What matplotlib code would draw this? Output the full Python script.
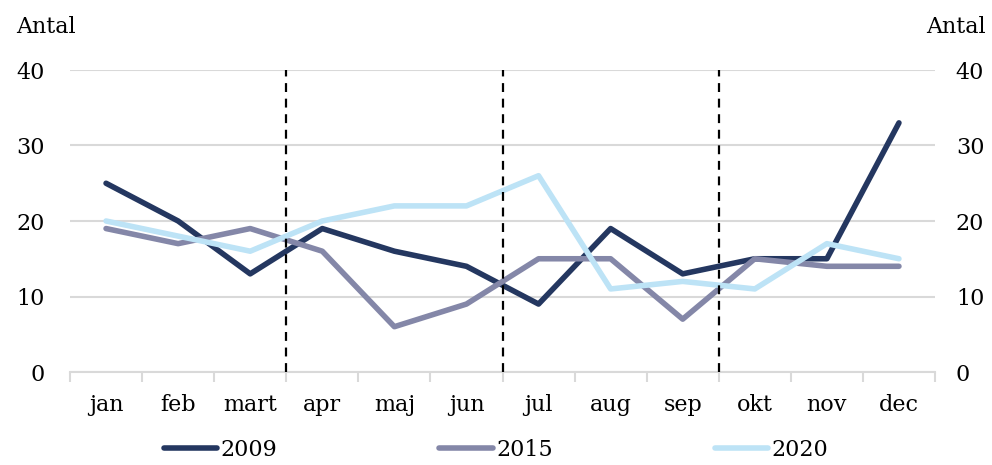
import matplotlib.pyplot as plt

months = ['jan', 'feb', 'mart', 'apr', 'maj', 'jun',
          'jul', 'aug', 'sep', 'okt', 'nov', 'dec']
v2009 = [25, 20, 13, 19, 16, 14, 9, 19, 13, 15, 15, 33]
v2015 = [19, 17, 19, 16, 6, 9, 15, 15, 7, 15, 14, 14]
v2020 = [20, 18, 16, 20, 22, 22, 26, 11, 12, 11, 17, 15]
quarter_breaks = [2.5, 5.5, 8.5]

plt.rcParams['font.family'] = ['DejaVu Serif']
fs = 16

fig = plt.figure(figsize=(9.92, 4.65), dpi=100)
ax = fig.add_axes([70 / 992, 1 - 372 / 465, 865 / 992, 302 / 465])

x = list(range(len(months)))
ax.plot(x, v2009, color='#243760', lw=4, solid_capstyle='round', label='2009', zorder=3)
ax.plot(x, v2015, color='#8487a8', lw=4, solid_capstyle='round', label='2015', zorder=3)
ax.plot(x, v2020, color='#bde3f6', lw=4, solid_capstyle='round', label='2020', zorder=3)

for b in quarter_breaks:
    ax.axvline(b, color='black', lw=1.6, ls=(0, (4, 3)), zorder=4)

ax.set_xlim(-0.5, 11.5)
ax.set_ylim(0, 40)
ax.set_yticks([0, 10, 20, 30, 40])
ax.grid(axis='y', color='#d9d9d9', lw=1.5, zorder=1)
ax.set_axisbelow(True)

for s in ['top', 'right', 'left']:
    ax.spines[s].set_visible(False)
ax.spines['bottom'].set_color('#d9d9d9')
ax.spines['bottom'].set_linewidth(1.5)

ax.set_xticks(x)
ax.set_xticklabels(months, fontsize=fs)
ax.set_xticks([i - 0.5 for i in range(13)], minor=True)
ax.tick_params(axis='x', which='major', length=0, pad=16)
ax.tick_params(axis='x', which='minor', length=7, width=1.5, color='#d9d9d9')
ax.tick_params(axis='y', length=0, labelsize=fs, pad=18)

ax2 = ax.twinx()
ax2.set_ylim(0, 40)
ax2.set_yticks([0, 10, 20, 30, 40])
for s in ['top', 'right', 'left', 'bottom']:
    ax2.spines[s].set_visible(False)
ax2.tick_params(axis='y', length=0, labelsize=fs, pad=15)

fig.text(16 / 992, 1 - 27 / 465, 'Antal', fontsize=fs, ha='left', va='center')
fig.text(986 / 992, 1 - 27 / 465, 'Antal', fontsize=fs, ha='right', va='center')

fig.legend(loc='center', bbox_to_anchor=(0.5, 1 - 450 / 465), ncol=3,
           frameon=False, fontsize=fs, handlelength=2.4, handletextpad=0.15,
           columnspacing=7.3)

fig.savefig('out.png', dpi=100)
